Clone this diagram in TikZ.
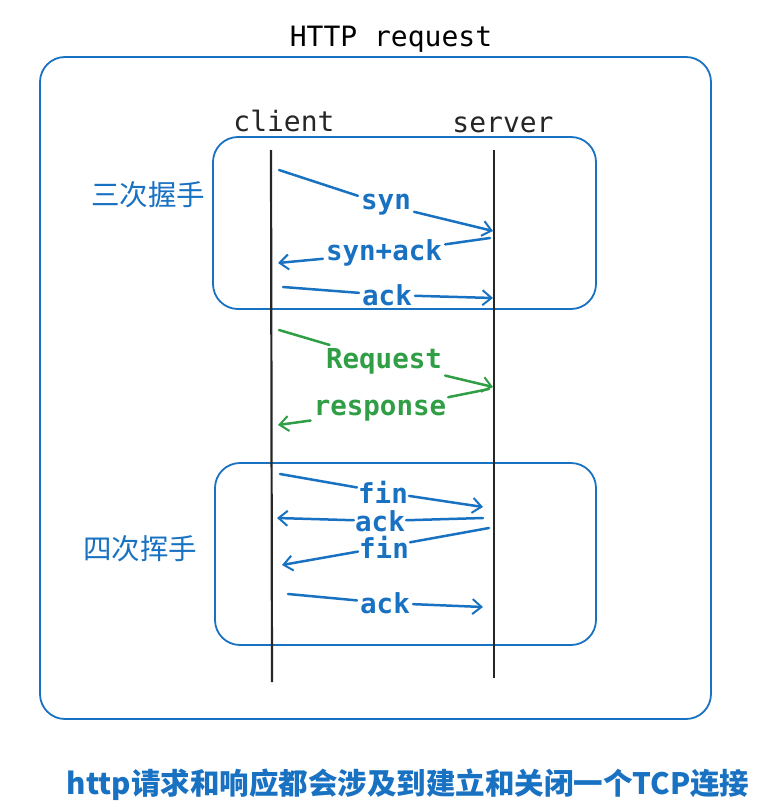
\documentclass[tikz,border=0pt]{standalone}
\usepackage{fontspec}
\setmonofont{DejaVu Sans Mono}
\newfontfamily\cjk{Noto Sans CJK SC}
\usepackage{tikz}
\usetikzlibrary{arrows.meta,positioning}

\definecolor{xblue}{HTML}{1971C2}
\definecolor{xgreen}{HTML}{2F9E44}

\tikzset{
    frame/.style={draw=xblue, line width=1.8pt, rounded corners=25pt},
    lifeline/.style={draw=black!85, line width=2.2pt},
    actor/.style={font=\ttfamily\fontsize{28}{28}\selectfont, text=black!85},
    phase/.style={font=\cjk\fontsize{28.5}{28.5}\selectfont, text=xblue},
    msg/.style={font=\ttfamily\bfseries\fontsize{27.5}{27.5}\selectfont, inner sep=3pt},
    line/.style={line width=2.5pt, line cap=round},
    tip/.style={-{Straight Barb[length=9pt,width=15pt,line width=2pt]}},
}

\begin{document}
\begin{tikzpicture}[x=1pt, y=-1pt]
    \useasboundingbox (0,0) rectangle (756,811);

    % frames
    \node[font=\ttfamily\fontsize{28}{28}\selectfont] (title) at (391,39) {HTTP request};
    \draw[frame] (40,57) rectangle (711,719);
    \draw[frame] (213,137) rectangle (596,309);
    \draw[frame] (215,463) rectangle (596,645);

    \node[phase] (open) at (148,195) {三次握手};
    \node[phase] (close) at (140,549) {四次挥手};

    % lifelines
    \node[actor] (client) at (284,121) {client};
    \node[actor] (server) at (503,125) {server};
    \coordinate (ctop) at (271,150);
    \coordinate (cbot) at (272,682);
    \coordinate (stop) at (494,150);
    \coordinate (sbot) at (494,678);
    \draw[lifeline] (ctop) -- (cbot);
    \draw[lifeline] (stop) -- (sbot);

    % three-way handshake
    \coordinate (syn1) at (279,170);  \coordinate (syn2) at (493,231);
    \coordinate (sa1) at (490,238);   \coordinate (sa2) at (278,263);
    \coordinate (ack1) at (283,287);  \coordinate (ack2) at (493,298);
    \node[msg, text=xblue] (syn) at (386,205) {syn};
    \node[msg, text=xblue] (synack) at (384,253) {syn+ack};
    \node[msg, text=xblue] (ack) at (387,295) {ack};

    \draw[line, xblue] (syn1) -- (syn);
    \draw[line, xblue, tip] (syn) -- (syn2);
    \draw[line, xblue] (sa1) -- (synack);
    \draw[line, xblue, tip] (synack) -- (sa2);
    \draw[line, xblue] (ack1) -- (ack);
    \draw[line, xblue, tip] (ack) -- (ack2);

    % request / response
    \coordinate (req1) at (279,330);  \coordinate (req2) at (493,387);
    \coordinate (res1) at (489,389);  \coordinate (res2) at (278,425);
    \node[msg, text=xgreen] (request) at (384,361) {Request};
    \node[msg, text=xgreen] (response) at (380,411) {response};

    \draw[line, xgreen] (req1) -- (request);
    \draw[line, xgreen, tip] (request) -- (req2);
    \draw[line, xgreen] (res1) -- (response);
    \draw[line, xgreen, tip] (response) -- (res2);

    % four-way handshake
    \coordinate (fin1) at (280,474);  \coordinate (fin2) at (483,507);
    \coordinate (fa1) at (483,518);   \coordinate (fa2) at (277,518);
    \coordinate (fb1) at (489,528);   \coordinate (fb2) at (282,565);
    \coordinate (la1) at (288,594);   \coordinate (la2) at (483,607);
    \node[msg, text=xblue, inner sep=1pt] (fin) at (383,492) {fin};
    \node[msg, text=xblue, inner sep=1pt] (finack) at (380,521) {ack};
    \node[msg, text=xblue, inner sep=1pt] (fin b) at (384,547) {fin};
    \node[msg, text=xblue] (lastack) at (385,603) {ack};

    \draw[line, xblue] (fin1) -- (fin);
    \draw[line, xblue, tip] (fin) -- (fin2);
    \draw[line, xblue] (fa1) -- (finack);
    \draw[line, xblue, tip] (finack) -- (fa2);
    \draw[line, xblue] (fb1) -- (fin b);
    \draw[line, xblue, tip] (fin b) -- (fb2);
    \draw[line, xblue] (la1) -- (lastack);
    \draw[line, xblue, tip] (lastack) -- (la2);

    % note
    \node[font=\cjk\bfseries\fontsize{29.5}{29.5}\selectfont, text=xblue] (note) at (408,785)
        {http请求和响应都会涉及到建立和关闭一个TCP连接};
\end{tikzpicture}
\end{document}
